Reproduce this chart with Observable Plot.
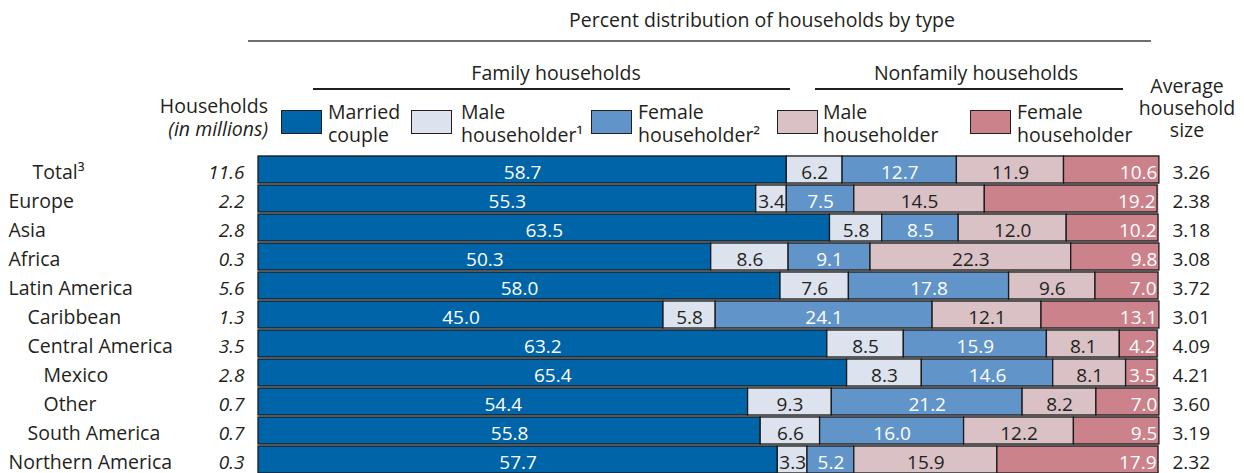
<!DOCTYPE html>
<html>
<head>
<meta charset="utf-8">
<script src="https://cdn.jsdelivr.net/npm/d3@7"></script>
<script src="https://cdn.jsdelivr.net/npm/@observablehq/plot@0.6"></script>
<style>
  html, body { margin: 0; padding: 0; background: #fff; }
  #wrap { position: relative; width: 1244px; height: 473px; overflow: hidden; font-family: "Open Sans", sans-serif; color: #231f20; font-size: 19.5px; }
  .abs { position: absolute; white-space: nowrap; line-height: 22px; }
  .ctr { transform: translateX(-50%); text-align: center; }
  .rule { position: absolute; }
  .sw { position: absolute; box-sizing: border-box; border: 1.3px solid #231f20; }
  .lg { position: absolute; line-height: 23px; white-space: nowrap; }
  #chart { position: absolute; left: 0; top: 153px; line-height: 0; }
</style>
</head>
<body>
<div id="wrap">
  <div class="abs ctr" style="left:762px; top:9px;">Percent distribution of households by type</div>
  <div class="rule" style="left:248px; top:40px; width:903px; height:2px; background:#6e6e6e;"></div>
  <div class="abs ctr" style="left:556px; top:62px;">Family households</div>
  <div class="rule" style="left:313px; top:88px; width:477px; height:1.5px; background:#231f20;"></div>
  <div class="abs ctr" style="left:976px; top:62px;">Nonfamily households</div>
  <div class="rule" style="left:815px; top:88px; width:308px; height:1.5px; background:#231f20;"></div>
  <div class="lg" style="right:976px; top:94px; text-align:right;">Households<br><i>(in millions)</i></div>
  <div id="legend"></div>
  <div class="lg ctr" style="left:1187px; top:75px; line-height:22px;">Average<br>household<br>size</div>
  <div id="chart"></div>
</div>
<script>
// ---- data ----
const regions = ["Total", "Europe", "Asia", "Africa", "Latin America", "Caribbean", "Central America", "Mexico", "Other", "South America", "Northern America"];
const regionLabels = ["Total³", "Europe", "Asia", "Africa", "Latin America", "Caribbean", "Central America", "Mexico", "Other", "South America", "Northern America"];
const levels = ["total", 0, 0, 0, 0, 1, 1, 2, 2, 1, 0];
const households = ["11.6", "2.2", "2.8", "0.3", "5.6", "1.3", "3.5", "2.8", "0.7", "0.7", "0.3"];
const avgSize = ["3.26", "2.38", "3.18", "3.08", "3.72", "3.01", "4.09", "4.21", "3.60", "3.19", "2.32"];

const types = ["Married couple", "Family male householder", "Family female householder", "Nonfamily male householder", "Nonfamily female householder"];
const legendLabels = [["Married", "couple"], ["Male", "householder¹"], ["Female", "householder²"], ["Male", "householder"], ["Female", "householder"]];

const marriedCouple   = [58.7, 55.3, 63.5, 50.3, 58.0, 45.0, 63.2, 65.4, 54.4, 55.8, 57.7];
const familyMale      = [6.2, 3.4, 5.8, 8.6, 7.6, 5.8, 8.5, 8.3, 9.3, 6.6, 3.3];
const familyFemale    = [12.7, 7.5, 8.5, 9.1, 17.8, 24.1, 15.9, 14.6, 21.2, 16.0, 5.2];
const nonfamilyMale   = [11.9, 14.5, 12.0, 22.3, 9.6, 12.1, 8.1, 8.1, 8.2, 12.2, 15.9];
const nonfamilyFemale = [10.6, 19.2, 10.2, 9.8, 7.0, 13.1, 4.2, 3.5, 7.0, 9.5, 17.9];

// ---- styling ----
const colors = ["#0064a8", "#dce3ee", "#6194c8", "#d9c1c6", "#cb828b"];
const lightText = [true, false, true, false, true];
const indent = {total: 32, 0: 8, 1: 27, 2: 43};
const FS = 19.5, NFS = 19, DY = 3;

const series = [marriedCouple, familyMale, familyFemale, nonfamilyMale, nonfamilyFemale];
const data = [];
regions.forEach((r, i) => {
  types.forEach((t, j) => {
    data.push({region: r, type: t, idx: j, value: series[j][i]});
  });
});
const rows = regions.map((r, i) => ({region: r, label: regionLabels[i], level: levels[i], hh: households[i], avg: avgSize[i]}));

// legend
const legendPos = [[281, 328], [411, 461], [591, 638], [777, 823], [970, 1017]];
const leg = document.getElementById("legend");
types.forEach((t, j) => {
  const sw = document.createElement("div");
  sw.className = "sw";
  sw.style.cssText = `left:${legendPos[j][0]}px; top:110px; width:41px; height:24px; background:${colors[j]};`;
  leg.appendChild(sw);
  const tx = document.createElement("div");
  tx.className = "lg";
  tx.style.cssText = `left:${legendPos[j][1]}px; top:100px;`;
  tx.innerHTML = legendLabels[j][0] + "<br>" + legendLabels[j][1];
  leg.appendChild(tx);
});

const fmt = v => v.toFixed(1);
const last = types.length - 1;
const stackOpts = {x: "value", y: "region", z: "type"};

const marks = [
  Plot.frame({fill: "#c9c9c9", stroke: null, insetTop: 2, insetBottom: 2}),
  Plot.barX(data, Plot.stackX({...stackOpts, fill: "type", stroke: "#1a1a1a", strokeWidth: 1.3})),
  Plot.text(data, Plot.stackX({...stackOpts, text: d => (d.idx !== last && lightText[d.idx]) ? fmt(d.value) : "", fill: "#ffffff", fontSize: NFS, dy: DY})),
  Plot.text(data, Plot.stackX({...stackOpts, text: d => (d.idx !== last && !lightText[d.idx]) ? fmt(d.value) : "", fill: "#231f20", fontSize: NFS, dy: DY})),
  Plot.text(data, Plot.stackX2({...stackOpts, text: d => d.idx === last ? fmt(d.value) : "", fill: "#ffffff", fontSize: NFS, textAnchor: "end", dx: -2, dy: DY})),
  Plot.text(rows, {y: "region", text: "hh", frameAnchor: "left", textAnchor: "end", dx: -14, dy: DY, fontStyle: "italic", fontSize: NFS, fill: "#231f20"}),
  Plot.text(rows, {y: "region", text: "avg", frameAnchor: "right", textAnchor: "start", dx: 14, dy: DY, fontSize: NFS, fill: "#231f20"})
];
for (const lv of Object.keys(indent)) {
  marks.push(Plot.text(rows.filter(d => String(d.level) === lv), {y: "region", text: "label", frameAnchor: "left", textAnchor: "start", dx: indent[lv] - 258, dy: DY, fontSize: FS, fill: "#231f20"}));
}

const chart = Plot.plot({
  width: 1244,
  height: 322,
  marginTop: 0,
  marginBottom: 0,
  marginLeft: 258,
  marginRight: 86,
  style: {fontFamily: "Open Sans, sans-serif", fontSize: "19px", background: "transparent", overflow: "visible"},
  x: {domain: [0, 100], axis: null},
  y: {domain: regions, axis: null, padding: 0.07},
  color: {domain: types, range: colors, legend: false},
  marks
});
document.getElementById("chart").appendChild(chart);
</script>
</body>
</html>
